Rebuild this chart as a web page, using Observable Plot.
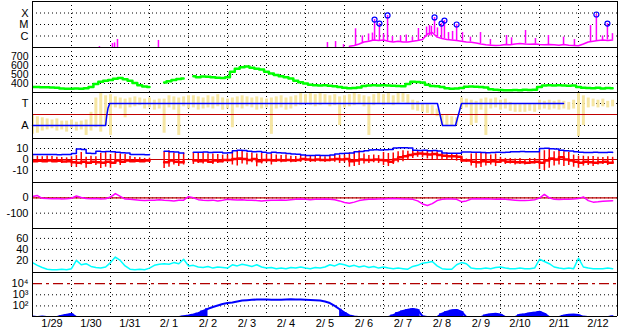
<!DOCTYPE html>
<html><head><meta charset="utf-8">
<script src="https://cdn.jsdelivr.net/npm/d3@7"></script>
<script src="https://cdn.jsdelivr.net/npm/@observablehq/plot@0.6"></script>
<style>
body{margin:0;background:#fff;}
#chart svg{display:block;}
</style></head><body><div id="chart"></div>
<script>
// ---------- data (hours from 1/29 00:00, 3-hour samples unless noted) ----------
const STEP = 3;
const dayLabels = ["1/29","1/30","1/31","2/ 1","2/ 2","2/ 3","2/ 4","2/ 5","2/ 6","2/ 7","2/ 8","2/ 9","2/10","2/11","2/12"];

// X-ray flux (in units of 1e-6 W/m2, C = 1)
const xrayStartHour = 195;
const xrayBase = [0.13,0.15,0.2,0.3,0.35,
  0.45,0.4,0.45,0.35,0.3,0.35,0.3,0.3,0.35,0.4,
  0.5,1.5,2.0,0.8,0.6,0.5,0.45,0.4,0.35,0.3,
  0.28,0.25,0.2,0.17,0.16,0.15,0.16,0.18,0.17,0.2,
  0.22,0.2,0.19,0.2,0.18,0.17,0.18,0.17,0.16,0.18,
  0.16,0.15,0.14,0.2,0.3,0.35,0.4,0.45,0.4,0.45];
const spikeHours = [41.2,49.2,50.5,52.3,77.5,181.5,186.5,191.4,198.8,203,206.8,209.2,210.5,213.5,216,218.5,221.5,226.5,230,233.8,237.5,242.5,244.3,245.5,247.4,249.2,251.7,253.5,256,258.5,261,264.6,269.5,275.7,281.8,291.7,294.8,303.4,309.5,317.5,326.8,333.5,343.4,347,350.8,353.8,356.9];
const spikeBase = [0.1,0.1,0.1,0.1,0.1,0.1,0.1,0.1,0.15,0.25,0.35,0.4,0.4,0.4,0.4,0.35,0.3,0.3,0.3,0.35,0.4,0.8,1.0,1.0,1.5,0.8,0.6,0.6,0.5,0.45,0.4,0.35,0.3,0.22,0.16,0.18,0.18,0.2,0.2,0.17,0.18,0.15,0.3,0.35,0.4,0.45,0.45];
const spikePeak = [0.12,0.22,0.25,0.5,0.41,0.27,0.33,0.18,4.2,1.0,1.5,1.8,27,12,1.5,61,0.9,1.0,1.2,0.8,4.5,6,8,7,41,5,12,22,2,2.5,10,2.0,0.8,2.0,0.5,1.1,0.7,3.0,0.6,1.1,0.8,0.5,8,74,1.0,12,1.6];
const flareHours = [210.5,213.5,218.5,247.4,251.7,253.5,261,347,353.8];
const flarePeaks = [27,12,61,41,12,22,10,74,12];

// Solar wind speed (km/s)
const speed = [362,360,358,358,355,352,345,343,342,345,
  343,348,362,395,420,430,440,452,460,448,
  430,405,380,368,360,null,null,410,425,440,
  450,455,null,480,470,478,475,470,465,460,
  470,530,565,580,590,575,565,555,530,510,
  495,480,470,455,430,415,400,385,380,378,
  380,375,370,360,352,348,350,355,372,378,
  380,378,380,378,375,372,370,395,420,418,
  410,385,372,370,360,348,342,345,350,365,
  368,365,360,355,335,330,328,326,325,328,
  325,330,328,330,360,378,380,378,380,378,
  375,378,360,352,350,348,352,345,350,348];

// IMF sector: spread of samples (lo/hi, A=-1 .. T=+1) and sector line
const secLo = [-1.8,-1.7,-1.5,-1.4,-1.3,-1.5,-1.4,-1.6,-1.3,-1.5,
  -1.4,-1.9,-1.5,-1.2,-1.6,-1.0,-1.9,0.6,0.5,-0.3,
  0.6,0.7,0.8,0.5,0.6,0.4,0.5,-1.7,0.6,0.4,
  -1.9,0.7,0.5,0.6,0.4,0.5,0.6,0.5,0.7,0.4,
  0.5,-1.2,0.6,0.5,0.7,0.6,0.4,0.5,0.6,-1.8,
  0.5,0.6,0.4,0.5,0.7,0.8,0.9,0.8,0.7,0.8,
  0.9,0.7,0.8,-1.0,0.6,0.7,0.8,0.9,0.7,-1.9,
  0.8,0.9,0.8,0.9,0.8,1.0,1.1,1.0,0.4,0.3,
  0.2,0.1,0.0,-0.2,-1.0,-1.1,-1.0,-1.0,0.5,0.6,
  -1.0,-0.8,0.4,-1.9,0.5,0.6,0.4,0.5,0.3,0.2,
  0.2,0.2,0.3,0.2,0.4,0.5,0.4,0.5,0.4,0.5,
  0.4,0.5,-2.0,-1.0,0.6,0.7,0.6,0.7,0.6,0.7];
const secHi = [-0.1,-0.2,-0.3,-0.4,-0.5,-0.4,-0.6,-0.6,-0.5,-0.7,
  -0.6,-0.5,0.2,1.5,1.9,1.7,1.8,1.6,1.5,1.4,
  1.5,1.6,1.5,1.4,1.5,1.3,1.4,1.4,1.7,1.6,
  1.5,1.6,1.7,1.7,1.6,1.5,1.7,1.6,1.8,1.5,
  1.4,1.5,1.6,1.7,1.6,1.5,1.6,1.5,1.4,1.5,
  1.6,1.7,1.5,1.6,1.7,1.9,1.8,1.9,1.8,1.9,
  1.8,1.7,1.8,1.6,1.7,1.8,1.9,1.8,1.7,1.6,
  1.8,1.9,1.8,1.9,1.7,1.9,1.9,1.8,1.3,1.2,
  1.0,0.9,0.8,0.5,-0.1,-0.1,-0.2,-0.3,1.5,1.4,
  1.3,1.2,1.4,1.5,1.4,1.5,1.3,1.4,1.1,1.0,
  0.9,1.0,1.0,0.9,1.3,1.2,1.3,1.2,1.3,1.2,
  1.1,1.3,1.9,1.7,1.5,1.4,1.3,1.4,1.2,1.3];
const sectorHours = [0,45,45.6,46.5,47.5,249.2,252.3,260.3,264,326.8];
const sectorVals = [-1,-1,-0.2,0.6,1,1,-1,-1,1,1];

// IMF |B| (nT), Bz main trace and Bz spread (nT)
const bt = [4.5,4.5,4.5,4.6,4.5,4.4,4.5,4.6,5.5,9.5,
  9.0,5.8,5.5,7.5,7.0,7.2,7.0,6.5,6.2,6.0,
  4.5,4.6,4.5,4.4,4.5,null,null,7.5,7.0,6.8,
  6.0,5.5,null,6.5,6.5,6.8,6.4,6.5,6.5,6.0,
  6.2,8.0,8.5,8.2,7.5,7.0,7.2,6.5,6.0,6.5,
  6.2,6.0,5.5,5.0,4.8,4.0,3.6,3.6,3.8,3.6,
  3.7,4.0,5.0,5.5,5.6,6.0,7.0,7.2,8.0,8.6,
  8.8,8.6,8.8,9.0,10.5,10.8,10.6,10.4,8.5,8.2,
  8.4,8.0,8.2,7.8,6.0,5.8,5.6,5.8,6.8,6.8,
  6.6,6.5,6.4,6.2,6.4,6.5,6.4,6.6,7.0,7.0,
  7.2,7.0,7.0,7.1,10.0,10.2,9.8,9.5,8.5,8.0,
  7.8,7.0,6.5,6.4,6.4,6.5,6.4,6.4,6.5,6.4];
const bz = [-1.5,-1.2,-1.5,-1.0,-1.5,-1.2,-1.8,-1.5,-2.5,-3.0,
  -2.0,-3.0,-2.0,-2.5,-3.0,-2.0,-3.0,-1.0,-2.0,-1.0,
  -1.5,-1.2,-1.5,-1.0,-1.2,null,null,-2.5,-1.0,-2.0,
  -2.5,-1.5,null,-1.0,-1.5,-1.0,-2.0,-1.0,-1.5,-0.5,
  -0.5,0.5,1.0,0.5,-0.5,0.5,-1.5,-0.5,-0.5,-1.0,
  -0.5,-1.0,-0.5,-1.0,-0.5,0.5,0.0,-0.5,0.0,-0.5,
  -0.5,0.0,0.5,0.0,0.5,-1.5,-1.0,0.0,-0.5,-0.5,
  0.0,-0.5,-1.0,-2.0,0.0,2.0,3.0,4.0,5.0,5.5,
  5.0,4.5,5.0,4.0,3.5,3.0,3.0,2.5,-1.0,-1.0,
  -2.0,-2.5,-1.5,-2.0,-1.5,-2.0,-1.0,-2.0,-2.0,-2.5,
  -2.5,-3.0,-2.5,-2.0,-3.0,-1.0,1.0,0.0,2.0,0.0,
  -1.0,-2.0,-3.0,-2.0,-2.5,-3.0,-2.5,-2.0,-3.0,-2.5];
const bzLo = [-2.7,-2.0,-2.5,-1.8,-2.7,-2.0,-3.6,-3.0,-6.5,-7.3,
  -5.0,-8.0,-4.5,-5.5,-8.2,-7.0,-8.0,-3.0,-5.5,-2.0,
  -2.7,-2.5,-2.7,-2.0,-2.7,null,null,-8.2,-7.0,-5.0,
  -6.4,-5.0,null,-4.5,-3.6,-4.0,-3.0,-4.5,-3.6,-3.0,
  -2.5,-5.0,-6.0,-4.0,-5.0,-3.0,-6.5,-4.0,-3.0,-5.0,
  -2.5,-3.0,-2.0,-3.0,-2.7,-2.5,-2.0,-2.7,-2.5,-2.0,
  -2.7,-2.0,-2.5,-3.6,-3.0,-7.0,-6.4,-5.5,-4.0,-3.6,
  -3.0,-3.6,-5.5,-6.4,-4.5,-3.0,-2.0,-1.0,1.0,2.0,
  1.5,0.5,0.0,-1.0,-1.0,-0.5,-1.0,-1.5,-2.7,-2.5,
  -6.0,-8.0,-7.3,-6.0,-5.0,-6.4,-3.6,-4.5,-4.0,-5.0,
  -4.5,-5.0,-4.5,-4.0,-9.0,-10.0,-8.0,-6.0,-5.0,-6.4,
  -5.5,-7.0,-8.0,-6.0,-5.5,-6.4,-5.0,-4.5,-5.5,-4.5];
const bzHi = [3.6,3.0,2.5,3.2,2.8,2.0,1.8,1.5,2.5,3.6,
  6.4,2.0,3.0,2.5,5.5,6.4,4.5,6.0,5.0,4.5,
  2.7,1.8,1.5,1.0,1.2,null,null,7.0,8.0,6.0,
  5.0,6.0,null,6.4,5.5,6.0,5.0,5.0,4.5,4.0,
  4.0,7.0,8.0,7.5,6.0,6.0,5.0,5.5,4.5,5.0,
  4.0,3.6,4.0,3.0,2.7,3.6,3.0,3.0,3.6,3.0,
  2.5,3.0,3.6,3.6,4.0,6.0,7.0,8.0,5.0,3.6,
  4.0,3.6,6.4,5.5,6.0,7.0,8.0,7.5,8.2,8.0,
  8.2,7.5,8.0,7.0,6.4,6.0,5.5,5.0,1.0,0.5,
  5.0,6.0,6.4,5.5,4.0,5.0,2.0,1.0,1.0,0.5,
  1.0,0.0,1.0,0.9,6.4,8.0,10.0,7.0,8.2,7.0,
  6.4,4.0,3.0,3.0,2.5,2.7,2.0,1.8,2.5,2.0];

// Dst (nT)
const dst = [8,15,-3,-5,-6,-5,-7,-6,-3,12,
  2,-5,-6,-5,-7,-6,5,28,10,-8,
  -10,-12,-15,-18,-16,-15,-12,-16,-18,-20,
  -16,-15,8,0,-12,-16,-18,-15,-20,-16,
  -10,-12,-14,-12,-16,-15,-18,-20,-18,-16,
  -15,-14,-16,-12,-10,-8,-10,-12,-10,-9,
  -8,-10,-12,-20,-30,-35,-28,-18,-12,-10,
  -9,-8,-7,-6,-5,-6,-7,-8,-10,-20,
  -40,-50,-38,-18,-10,-8,-7,-10,-25,-20,
  -8,-6,-7,-6,-8,-9,-8,-9,-12,-15,
  -18,-17,-16,-12,-2,22,0,-10,-11,-10,
  -9,-8,-5,6,-18,-28,-26,-22,-20,-19];

// Solar wind density (/cc)
const density = [16,11,7,4,3,3,4,3,5,20,
  12,14,9,7,6,8,16,26,20,10,
  4,3,4,3,6,11,13,14,13,16,
  14,22,10,11,8,7,9,6,8,7,
  6,12,10,13,11,9,12,8,6,7,
  5,6,5,7,6,8,6,5,7,6,
  8,12,10,14,12,9,11,8,10,7,
  9,6,8,6,5,6,5,4,9,11,
  15,16,18,10,5,4,4,12,16,14,
  6,5,5,6,5,7,8,6,5,5,
  6,5,5,6,22,18,14,8,6,5,
  6,5,24,8,6,5,5,5,6,5];

// Proton flux (pfu)
const proton = [11,10,11,10,10,10,13,16,19,10,
  10,10,10,10,10,10,10,10,10,10,
  10,10,10,10,10,10,10,10,10,10,
  10,12,14,17,22,35,55,80,110,150,
  180,200,250,300,330,350,370,380,370,360,
  350,360,380,390,380,370,360,340,320,300,
  250,180,100,50,25,14,11,10,10,10,
  10,10,10,10,15,25,35,45,53,45,
  12,10,10,10,20,30,40,43,30,10,
  10,10,10,15,18,20,17,10,10,10,
  16,18,22,25,30,20,10,10,10,14,
  16,17,15,11,10,10,10,10,10,12];

// axis ticks / labels
const xrayTicks = [1, 10, 100], xrayLabels = ["C", "M", "X"];
const speedTicks = [400, 500, 600, 700], speedLabels = ["400", "500", "600", "700"];
const secTicks = [-1, 1], secLabels = ["A", "T"];
const bTicks = [-10, 0, 10], bLabels = ["-10", "0", "10"];
const dstTicks = [-100, 0], dstLabels = ["-100", "0"];
const denTicks = [20, 40, 60], denLabels = ["20", "40", "60"];
const proTicks = [100, 1000, 10000], proLabels = ["10\u00B2", "10\u00B3", "10\u2074"];

// ---------- drawing ----------
const FONT = "'Liberation Sans', Arial, Helvetica, sans-serif";
const W = 628, ML = 32, MR = 11;
const dayEdges = dayLabels.slice(1).map((_, i) => (i + 1) * 24);
const dayNoons = dayLabels.map((_, i) => i * 24 + 12);
const rows = (vals, start = 0) => vals.map((v, i) => ({h: start + i * STEP, v}));

function panel({height, mt = 0, mb = 0, y, ticks, labels, grid, marks, top, bottom, xAxis = false, fontSize = "11px"}) {
  return Plot.plot({
    width: W, height, marginLeft: ML, marginRight: MR, marginTop: mt, marginBottom: mb,
    style: {background: "#fff", color: "#000", fontFamily: FONT, fontSize, overflow: "visible"},
    x: {domain: [0, 360], axis: xAxis ? "bottom" : null, ticks: dayNoons,
        tickFormat: d => dayLabels[Math.round((d - 12) / 24)], tickSize: 0, tickPadding: 3, label: null},
    y: {...y, axis: "left", ticks, tickFormat: d => labels[ticks.indexOf(d)], tickSize: 0, tickPadding: 4, label: null},
    marks: [
      Plot.ruleY(grid, {stroke: "#000", strokeDasharray: "1,3"}),
      Plot.ruleX(dayEdges, {stroke: "#000", strokeDasharray: "1,3"}),
      ...marks,
      Plot.ruleX([0, 360], {stroke: "#000"}),
      Plot.ruleY(bottom != null ? [top, bottom] : [top], {stroke: "#000"})
    ]
  });
}

const xrayRows = rows(xrayBase, xrayStartHour);
const spikeRows = spikeHours.map((h, i) => ({h, b: spikeBase[i], p: spikePeak[i]}));
const flareRows = flareHours.map((h, i) => ({h, p: flarePeaks[i]}));
const secRows = secLo.map((lo, i) => ({h: i * STEP, lo, hi: secHi[i]}));
const sectorRows = sectorHours.map((h, i) => ({h, v: sectorVals[i]}));
const bzRows = bzLo.map((lo, i) => ({h: i * STEP, lo, hi: bzHi[i]})).filter(d => d.lo != null);
const protonRows = rows(proton);

const chart = document.getElementById("chart");

chart.append(panel({
  height: 47, mt: 1, y: {type: "log", domain: [0.1, 1000]}, ticks: xrayTicks, labels: xrayLabels,
  grid: xrayTicks, top: 1000,
  marks: [
    Plot.line(xrayRows, {x: "h", y: "v", stroke: "#ff00ff", strokeWidth: 1.5, clip: true}),
    Plot.ruleX(spikeRows, {x: "h", y1: "b", y2: "p", stroke: "#ff00ff", strokeWidth: 1.5, clip: true}),
    Plot.dot(flareRows, {x: "h", y: "p", r: 2.5, stroke: "#0000ff", strokeWidth: 1.2, fill: "none"})
  ]
}));

chart.append(panel({
  height: 45, y: {domain: [300, 800]}, ticks: speedTicks, labels: speedLabels, grid: speedTicks, top: 800,
  fontSize: "10.5px",
  marks: [
    Plot.line(rows(speed), {x: "h", y: "v", stroke: "#00ff00", strokeWidth: 2.5, curve: "step", clip: true})
  ]
}));

chart.append(panel({
  height: 46, y: {domain: [-2.18, 2]}, ticks: secTicks, labels: secLabels, grid: secTicks, top: 2,
  marks: [
    Plot.ruleX(secRows, {x: "h", y1: "lo", y2: "hi", stroke: "#f6e6a2", strokeWidth: 3, clip: true}),
    Plot.ruleY([0], {stroke: "#c00000", strokeWidth: 1.2}),
    Plot.line(sectorRows, {x: "h", y: "v", stroke: "#0000ff", strokeWidth: 1.5})
  ]
}));

chart.append(panel({
  height: 44, y: {domain: [-20.9, 19.1]}, ticks: bTicks, labels: bLabels, grid: bTicks, top: 19.1,
  marks: [
    Plot.ruleY([0], {stroke: "#c00000", strokeWidth: 1.2}),
    Plot.ruleX(bzRows, {x: "h", y1: "lo", y2: "hi", stroke: "#ff0000", strokeWidth: 1.5, clip: true}),
    Plot.line(rows(bz), {x: "h", y: "v", stroke: "#ff0000", strokeWidth: 2.5, curve: "step-after", clip: true}),
    Plot.line(rows(bt), {x: "h", y: "v", stroke: "#0000ff", strokeWidth: 1.5, curve: "step-after", clip: true})
  ]
}));

chart.append(panel({
  height: 46, y: {domain: [-200, 100]}, ticks: dstTicks, labels: dstLabels, grid: dstTicks, top: 100,
  marks: [
    Plot.ruleY([0], {stroke: "#c00000", strokeWidth: 1.2}),
    Plot.line(rows(dst), {x: "h", y: "v", stroke: "#ff00ff", strokeWidth: 1.5, clip: true})
  ]
}));

chart.append(panel({
  height: 44, y: {domain: [-2, 78]}, ticks: denTicks, labels: denLabels, grid: denTicks, top: 78,
  marks: [
    Plot.line(rows(density), {x: "h", y: "v", stroke: "#00ffff", strokeWidth: 1.5, clip: true})
  ]
}));

chart.append(panel({
  height: 62, mb: 18, xAxis: true, y: {type: "log", domain: [11.2, 100000]}, ticks: proTicks, labels: proLabels,
  grid: [100, 1000], top: 100000, bottom: 11.2,
  marks: [
    Plot.areaY(protonRows, {x: "h", y1: 10, y2: d => d.v < 70 ? d.v : NaN, fill: "#0000ff", curve: "step", clip: true}),
    Plot.line(protonRows, {x: "h", y: "v", stroke: "#0000ff", strokeWidth: 2, clip: true}),
    Plot.ruleY([10000], {stroke: "#b00000", strokeWidth: 1.2, strokeDasharray: "10,4,3,4"})
  ]
}));
</script></body></html>
